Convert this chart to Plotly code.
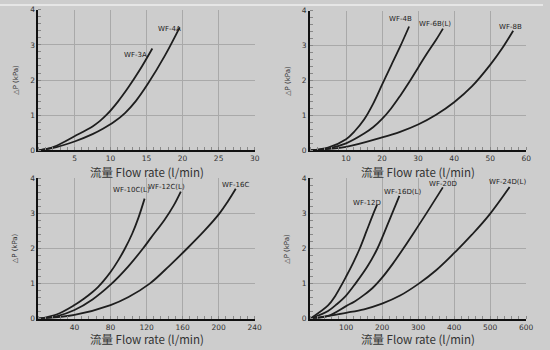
import plotly.graph_objects as go

# Pressure drop curves: flow rate (l/min) vs ΔP (kPa)
wf3a_x = [0, 1, 2.5, 5, 7.5, 8.5, 9.5, 11, 12.5, 14, 15.8]
wf3a_y = [0, 0.03, 0.13, 0.4, 0.68, 0.83, 1.02, 1.38, 1.8, 2.27, 2.9]
wf4a_x = [0, 2.5, 5, 7.5, 9, 10.5, 12, 13.5, 15.2, 17.5, 19.6]
wf4a_y = [0, 0.09, 0.25, 0.46, 0.62, 0.81, 1.06, 1.4, 1.9, 2.68, 3.5]

wf4b_x = [0, 5, 10, 12.5, 15, 17.5, 20, 22.5, 25, 27.5]
wf4b_y = [0, 0.08, 0.32, 0.56, 0.88, 1.33, 1.88, 2.43, 2.97, 3.55]
wf6b_x = [0, 5, 10, 15, 17.5, 20, 22.5, 25, 27.5, 30, 32.5, 35, 36.9]
wf6b_y = [0, 0.05, 0.2, 0.48, 0.66, 0.9, 1.2, 1.56, 1.95, 2.37, 2.78, 3.17, 3.49]
wf8b_x = [0, 10, 20, 25, 30, 35, 40, 45, 50, 53.3, 56.4]
wf8b_y = [0, 0.1, 0.37, 0.53, 0.74, 1.02, 1.38, 1.84, 2.45, 2.92, 3.43]

wf10c_x = [0, 20, 40, 50, 60, 66, 72, 80, 88, 96, 104, 111, 117.8]
wf10c_y = [0, 0.12, 0.39, 0.56, 0.76, 0.9, 1.07, 1.33, 1.64, 2.0, 2.42, 2.88, 3.42]
wf12c_x = [0, 20, 40, 60, 80, 100, 116, 125, 140, 150, 158]
wf12c_y = [0, 0.07, 0.25, 0.55, 0.97, 1.5, 2.0, 2.31, 2.82, 3.22, 3.62]
wf16c_x = [0, 40, 80, 100, 123.5, 145, 165, 184, 201, 210, 219]
wf16c_y = [0, 0.11, 0.39, 0.62, 1.0, 1.5, 2.0, 2.5, 3.0, 3.33, 3.7]

wf12d_x = [0, 50, 70, 89.6, 100, 120, 138, 157, 176, 186]
wf12d_y = [0, 0.38, 0.65, 1.0, 1.2, 1.6, 2.0, 2.5, 3.0, 3.24]
wf16d_x = [0, 50, 75, 100, 126, 160, 187, 220, 248]
wf16d_y = [0, 0.22, 0.42, 0.66, 1.0, 1.5, 2.0, 2.8, 3.5]
wf20d_x = [0, 50, 100, 125, 150, 175, 200, 230, 259, 290, 323, 368.7]
wf20d_y = [0, 0.08, 0.36, 0.5, 0.68, 0.89, 1.17, 1.57, 2.0, 2.48, 3.0, 3.74]
wf24d_x = [0, 100, 150, 200, 250, 302, 350, 405, 450, 497, 554]
wf24d_y = [0, 0.17, 0.27, 0.43, 0.66, 1.0, 1.38, 1.92, 2.4, 2.95, 3.75]

panels = [
    # (curves, x ticks, x range, minor dtick, labels)
    ([(wf3a_x, wf3a_y), (wf4a_x, wf4a_y)],
     [5, 10, 15, 20, 25, 30], 30, 1,
     [("WF-3A", 13.4, 2.7), ("WF-4A", 18.2, 3.45)]),
    ([(wf4b_x, wf4b_y), (wf6b_x, wf6b_y), (wf8b_x, wf8b_y)],
     [10, 20, 30, 40, 50, 60], 60, 2,
     [("WF-4B", 25.2, 3.77), ("WF-6B(L)", 34.8, 3.62), ("WF-8B", 55.6, 3.55)]),
    ([(wf10c_x, wf10c_y), (wf12c_x, wf12c_y), (wf16c_x, wf16c_y)],
     [40, 80, 120, 160, 200, 240], 240, 8,
     [("WF-10C(L)", 103, 3.66), ("WF-12C(L)", 142.5, 3.74), ("WF-16C", 219, 3.81)]),
    ([(wf12d_x, wf12d_y), (wf16d_x, wf16d_y), (wf20d_x, wf20d_y), (wf24d_x, wf24d_y)],
     [100, 200, 300, 400, 500, 600], 600, 20,
     [("WF-12D", 158, 3.29), ("WF-16D(L)", 257, 3.6), ("WF-20D", 368.5, 3.83),
      ("WF-24D(L)", 547, 3.9)]),
]

x_domains = [[0.0709, 0.469], [0.571, 0.969], [0.0709, 0.469], [0.571, 0.969]]
y_domains = [[0.571, 0.983], [0.571, 0.980], [0.077, 0.489], [0.077, 0.489]]
x_title_y = [0.508, 0.508, 0.018, 0.018]

BG = "#cdcdcd"
GRID = "#a9a9a9"
FONT = "DejaVu Sans"

fig = go.Figure()
layout = dict(
    width=550, height=350,
    margin=dict(l=0, r=0, t=0, b=0),
    paper_bgcolor=BG, plot_bgcolor=BG,
    showlegend=False,
    font=dict(family=FONT, color="#222"),
)
annotations = []

for i, (curves, xticks, xmax, minor_dt, labels) in enumerate(panels):
    n = "" if i == 0 else str(i + 1)
    xa, ya = "x" + n, "y" + n
    for cx, cy in curves:
        fig.add_trace(go.Scatter(
            x=cx, y=cy, xaxis=xa, yaxis=ya, mode="lines",
            line=dict(color="#1e1e1e", width=1.8, shape="spline", smoothing=1.0),
            hoverinfo="skip"))
    layout["xaxis" + n] = dict(
        domain=x_domains[i], anchor=ya, range=[0, xmax],
        tickvals=xticks, ticktext=[str(t) for t in xticks],
        tickfont=dict(size=7.5, color="#333"), ticks="", ticklen=0,
        showgrid=True, gridcolor=GRID, gridwidth=1, zeroline=False,
        showline=True, linecolor="#111", linewidth=2,
        minor=dict(dtick=minor_dt, ticks="inside", ticklen=3,
                   tickcolor="#888", showgrid=False))
    layout["yaxis" + n] = dict(
        domain=y_domains[i], anchor=xa, range=[0, 4],
        tickvals=[0, 1, 2, 3, 4],
        tickfont=dict(size=7.5, color="#333"), ticks="", ticklen=0,
        showgrid=True, gridcolor=GRID, gridwidth=1, zeroline=False,
        showline=True, linecolor="#111", linewidth=2,
        minor=dict(dtick=0.2, ticks="inside", ticklen=3,
                   tickcolor="#888", showgrid=False))
    for text, lx, ly in labels:
        annotations.append(dict(
            x=lx, y=ly, xref=xa, yref=ya, text=text, showarrow=False,
            xanchor="center", yanchor="middle",
            font=dict(size=7, color="#222", family=FONT)))
    # axis titles
    xd, yd = x_domains[i], y_domains[i]
    annotations.append(dict(
        x=(xd[0] + xd[1]) / 2, y=x_title_y[i], xref="paper", yref="paper",
        text="流量 Flow rate (l/min)", showarrow=False,
        xanchor="center", yanchor="middle",
        font=dict(size=11.5, color="#333", family="Noto Sans CJK SC")))
    annotations.append(dict(
        x=xd[0] - 0.042, y=(yd[0] + yd[1]) / 2, xref="paper", yref="paper",
        text="△P (kPa)", showarrow=False, textangle=-90,
        xanchor="center", yanchor="middle",
        font=dict(size=7, color="#333", family=FONT)))

layout["annotations"] = annotations
layout["shapes"] = [dict(type="rect", xref="paper", yref="paper",
                         x0=0, x1=1, y0=0.994, y1=1.0,
                         fillcolor="#e6e6e6", line=dict(width=0), layer="below")]
fig.update_layout(**layout)
fig.write_html("out.html")
